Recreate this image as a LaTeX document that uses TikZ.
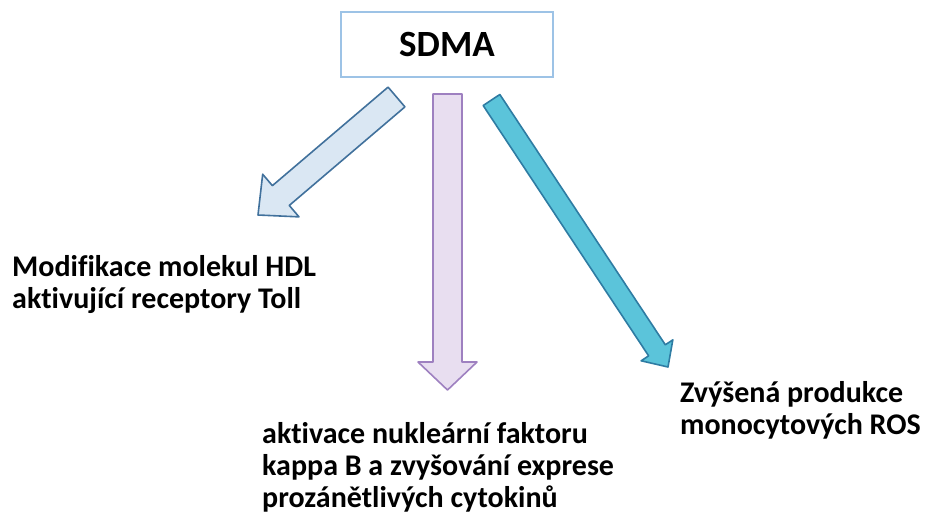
\documentclass[tikz,border=0pt]{standalone}
\usepackage{fontspec}
\setmainfont[Ligatures=NoCommon]{Carlito}
\usetikzlibrary{calc}
\definecolor{boxline}{HTML}{9DC3E6}
\definecolor{lfill}{HTML}{DAE7F3}
\definecolor{ldraw}{HTML}{41719C}
\definecolor{mfill}{HTML}{E8DEF0}
\definecolor{mdraw}{HTML}{9E80C0}
\definecolor{rfill}{HTML}{5BC4DA}
\definecolor{rdraw}{HTML}{2E7CA3}
\newcommand\blockarr[6]{%
  \coordinate (H) at ($(#2)!#5!(#1)$);
  \draw[#6] ($(#1)!#3!90:(#2)$) -- ($(H)!#3!90:(#2)$) -- ($(H)!#4!90:(#2)$)
    -- (#2) -- ($(H)!#4!-90:(#2)$) -- ($(H)!#3!-90:(#2)$) -- ($(#1)!#3!-90:(#2)$) -- cycle;}
\tikzset{
  txt/.style={inner sep=0pt, anchor=base west, font=\fontsize{30}{32}\selectfont\bfseries},
  arrline/.style={line width=1.6pt, line join=round}
}
\begin{document}
\begin{tikzpicture}[x=1pt,y=-1pt]
\useasboundingbox (0,0) rectangle (928,520);
\node[draw=boxline, line width=2pt, minimum width=212pt, minimum height=65pt, inner sep=0pt,
  font=\fontsize{37}{40}\selectfont\bfseries] (sdma) at (447,44.5) {SDMA};
\coordinate (ltail) at (396.5,97);
\coordinate (ltip) at (258,215);
\coordinate (mtail) at (447.5,94);
\coordinate (mtip) at (447.5,390);
\coordinate (rtail) at (491.5,100);
\coordinate (rtip) at (668,367);
\blockarr{ltail}{ltip}{13pt}{28pt}{30pt}{arrline, fill=lfill, draw=ldraw}
\blockarr{mtail}{mtip}{14.5pt}{29.5pt}{28pt}{arrline, fill=mfill, draw=mdraw}
\blockarr{rtail}{rtip}{10pt}{19pt}{20pt}{arrline, fill=rfill, draw=rdraw}
\node[txt] (hdl) at (12,276) {\begin{tabular}[t]{@{}l@{}}Modifikace molekul HDL\\aktivující receptory Toll\end{tabular}};
\node[txt] (nfkb) at (262,443) {\begin{tabular}[t]{@{}l@{}}aktivace nukleární faktoru\\kappa B a zvyšování exprese\\prozánětlivých cytokinů\end{tabular}};
\node[txt] (ros) at (680,402) {\begin{tabular}[t]{@{}l@{}}Zvýšená produkce\\monocytových ROS\end{tabular}};
\end{tikzpicture}
\end{document}
